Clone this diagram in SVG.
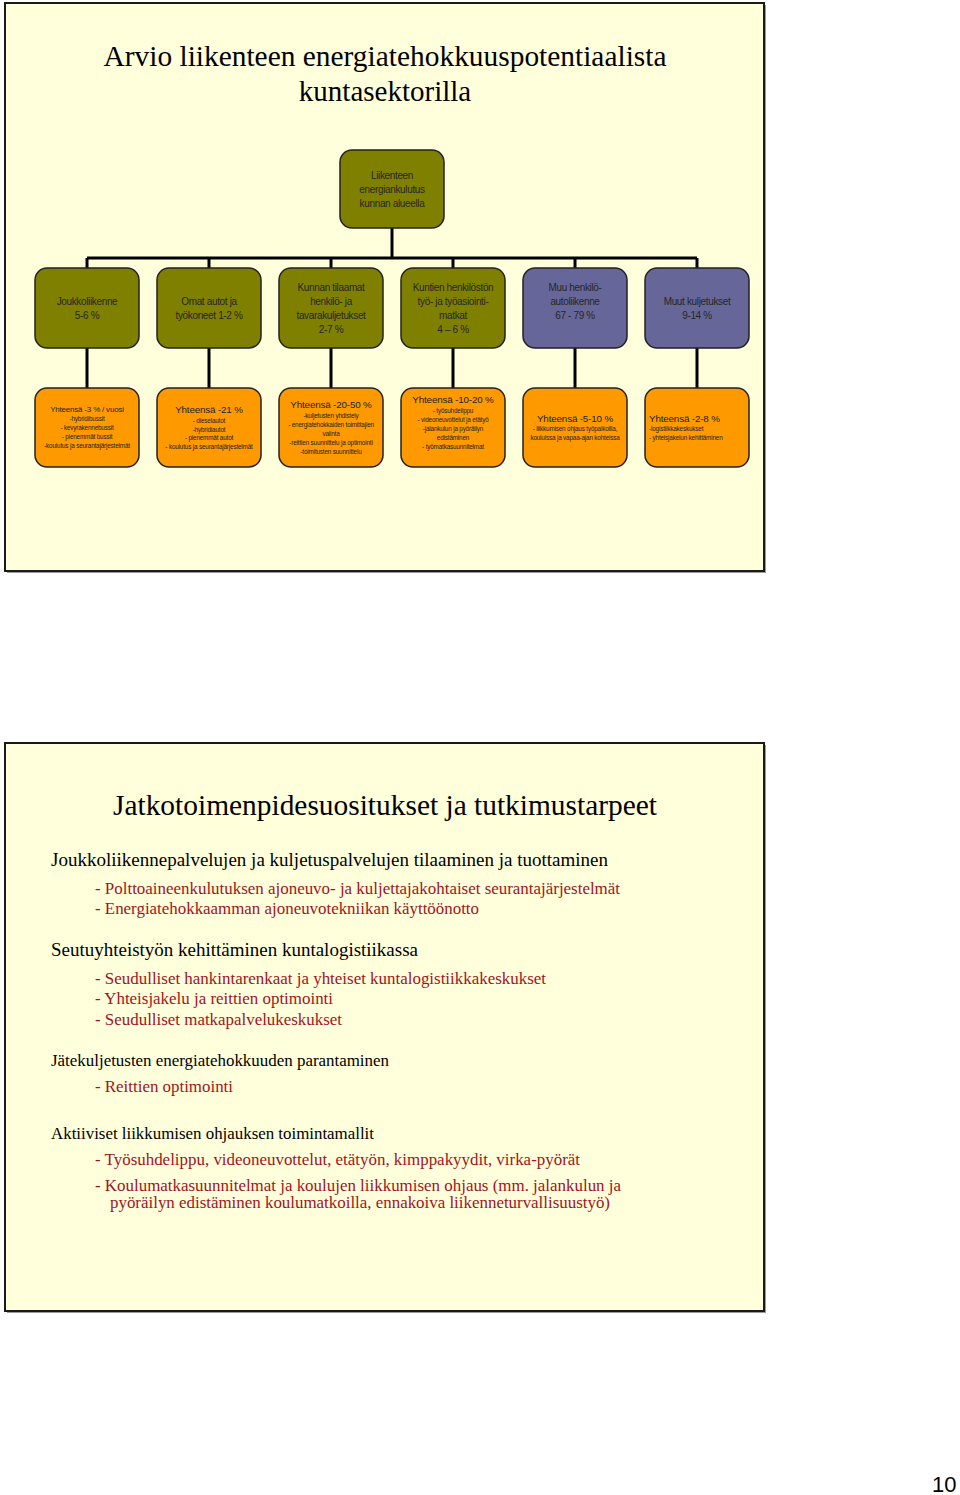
<svg xmlns="http://www.w3.org/2000/svg" width="960" height="1495" viewBox="0 0 960 1495">
<style>
.slide{fill:#FFFFDC;stroke:#1a1a1a;stroke-width:2}
.shadow{fill:#999}
.olive{fill:#808000;stroke:#222;stroke-width:1.5}
.purple{fill:#666699;stroke:#222;stroke-width:1.5}
.orange{fill:#FF9900;stroke:#222;stroke-width:1.5}
.conn{stroke:#000;stroke-width:3;fill:none}
.nt{font-family:"Liberation Sans",Arial,sans-serif;font-size:10px;fill:#262626;text-anchor:middle;letter-spacing:-0.35px}
.hd{font-family:"Liberation Sans",Arial,sans-serif;font-size:9.8px;fill:#222;text-anchor:middle;letter-spacing:-0.15px}
.sm{font-family:"Liberation Sans",Arial,sans-serif;font-size:6.3px;fill:#222;text-anchor:middle;letter-spacing:-0.15px}
.title{font-family:"Liberation Serif","Times New Roman",serif;font-size:29px;fill:#000;text-anchor:middle}
.h{font-family:"Liberation Serif","Times New Roman",serif;font-size:18px;fill:#000}
.h2{font-family:"Liberation Serif","Times New Roman",serif;font-size:16px;fill:#000}
.r{font-family:"Liberation Serif","Times New Roman",serif;font-size:16px;fill:#A0141E}
.pg{font-family:"Liberation Sans",Arial,sans-serif;font-size:22px;fill:#000}
</style>
<rect width="960" height="1495" fill="#fff"/>
<!-- Slide 1 -->
<g id="slide1">
<rect class="shadow" x="7" y="5" width="759" height="568"/>
<rect class="slide" x="5" y="3" width="759" height="568"/>
<text class="title" x="385" y="66" textLength="563" lengthAdjust="spacingAndGlyphs">Arvio liikenteen energiatehokkuuspotentiaalista</text>
<text class="title" x="385" y="101">kuntasektorilla</text>
</g>
<g id="connectors">
<path class="conn" d="M392 228V258M87 258H697M87 258V268M209 258V268M331 258V268M453 258V268M575 258V268M697 258V268"/>
<path class="conn" d="M87 348V388M209 348V388M331 348V388M453 348V388M575 348V388M697 348V388"/>
</g>
<g id="root">
<rect class="olive" x="340" y="150" width="104" height="78" rx="12"/>
<text class="nt" x="392" y="179">Liikenteen</text>
<text class="nt" x="392" y="193">energiankulutus</text>
<text class="nt" x="392" y="207">kunnan alueella</text>
</g>
<g id="n1">
<rect class="olive" x="35" y="268" width="104" height="80" rx="12"/>
<text class="nt" x="87" y="305">Joukkoliikenne</text>
<text class="nt" x="87" y="319">5-6 %</text>
</g>
<g id="n2">
<rect class="olive" x="157" y="268" width="104" height="80" rx="12"/>
<text class="nt" x="209" y="305">Omat autot ja</text>
<text class="nt" x="209" y="319">työkoneet 1-2 %</text>
</g>
<g id="n3">
<rect class="olive" x="279" y="268" width="104" height="80" rx="12"/>
<text class="nt" x="331" y="291">Kunnan tilaamat</text>
<text class="nt" x="331" y="305">henkilö- ja</text>
<text class="nt" x="331" y="319">tavarakuljetukset</text>
<text class="nt" x="331" y="333">2-7 %</text>
</g>
<g id="n4">
<rect class="olive" x="401" y="268" width="104" height="80" rx="12"/>
<text class="nt" x="453" y="291">Kuntien henkilöstön</text>
<text class="nt" x="453" y="305">työ- ja työasiointi-</text>
<text class="nt" x="453" y="319">matkat</text>
<text class="nt" x="453" y="333">4 – 6 %</text>
</g>
<g id="n5">
<rect class="purple" x="523" y="268" width="104" height="80" rx="12"/>
<text class="nt" x="575" y="291">Muu henkilö-</text>
<text class="nt" x="575" y="305">autoliikenne</text>
<text class="nt" x="575" y="319">67 - 79 %</text>
</g>
<g id="n6">
<rect class="purple" x="645" y="268" width="104" height="80" rx="12"/>
<text class="nt" x="697" y="305">Muut kuljetukset</text>
<text class="nt" x="697" y="319">9-14 %</text>
</g>
<g id="m1">
<rect class="orange" x="35" y="388" width="104" height="79" rx="12"/>
<text class="hd" x="87" y="412" style="font-size:7.9px">Yhteensä -3 % / vuosi</text>
<text class="sm" x="87" y="421">-hybridibussit</text>
<text class="sm" x="87" y="430">- kevyrakennebussit</text>
<text class="sm" x="87" y="439">- pienemmät bussit</text>
<text class="sm" x="87" y="448">-koulutus ja seurantajärjestelmät</text>
</g>
<g id="m2">
<rect class="orange" x="157" y="388" width="104" height="79" rx="12"/>
<text class="hd" x="209" y="413">Yhteensä -21 %</text>
<text class="sm" x="209" y="423">- dieselautot</text>
<text class="sm" x="209" y="432">-hybridiautot</text>
<text class="sm" x="209" y="440">- pienemmät autot</text>
<text class="sm" x="209" y="449">- koulutus ja seurantajärjestelmät</text>
</g>
<g id="m3">
<rect class="orange" x="279" y="388" width="104" height="79" rx="12"/>
<text class="hd" x="331" y="408">Yhteensä -20-50 %</text>
<text class="sm" x="331" y="418">-kuljetusten yhdistely</text>
<text class="sm" x="331" y="427">- energiatehokkaiden toimittajien</text>
<text class="sm" x="331" y="436">valinta</text>
<text class="sm" x="331" y="445">-reittien suunnittelu ja optimointi</text>
<text class="sm" x="331" y="454">-toimitusten suunnittelu</text>
</g>
<g id="m4">
<rect class="orange" x="401" y="388" width="104" height="79" rx="12"/>
<text class="hd" x="453" y="403">Yhteensä -10-20 %</text>
<text class="sm" x="453" y="413">- työsuhdelippu</text>
<text class="sm" x="453" y="422">- videoneuvottelut ja etätyö</text>
<text class="sm" x="453" y="431">-jalankulun ja pyöräilyn</text>
<text class="sm" x="453" y="440">edistäminen</text>
<text class="sm" x="453" y="449">- työmatkasuunnitelmat</text>
</g>
<g id="m5">
<rect class="orange" x="523" y="388" width="104" height="79" rx="12"/>
<text class="hd" x="575" y="422">Yhteensä -5-10 %</text>
<text class="sm" x="575" y="431">- liikkumisen ohjaus työpaikoilla,</text>
<text class="sm" x="575" y="440">kouluissa ja vapaa-ajan kohteissa</text>
</g>
<g id="m6">
<rect class="orange" x="645" y="388" width="104" height="79" rx="12"/>
<text class="hd" x="649" y="422" style="text-anchor:start">Yhteensä -2-8 %</text>
<text class="sm" x="649" y="431" style="text-anchor:start">-logistiikkakeskukset</text>
<text class="sm" x="649" y="440" style="text-anchor:start">- yhteisjakelun kehittäminen</text>
</g>
<!-- Slide 2 -->
<g id="slide2">
<rect class="shadow" x="7" y="745" width="759" height="568"/>
<rect class="slide" x="5" y="743" width="759" height="568"/>
<text class="title" x="385" y="815" textLength="544" lengthAdjust="spacingAndGlyphs">Jatkotoimenpidesuositukset ja tutkimustarpeet</text>
<text class="h" x="51" y="866" textLength="557" lengthAdjust="spacingAndGlyphs">Joukkoliikennepalvelujen ja kuljetuspalvelujen tilaaminen ja tuottaminen</text>
<text class="r" x="95" y="894" textLength="525" lengthAdjust="spacingAndGlyphs">- Polttoaineenkulutuksen ajoneuvo- ja kuljettajakohtaiset seurantajärjestelmät</text>
<text class="r" x="95" y="914" textLength="384" lengthAdjust="spacingAndGlyphs">- Energiatehokkaamman ajoneuvotekniikan käyttöönotto</text>
<text class="h" x="51" y="956" textLength="367" lengthAdjust="spacingAndGlyphs">Seutuyhteistyön kehittäminen kuntalogistiikassa</text>
<text class="r" x="95" y="984" textLength="451" lengthAdjust="spacingAndGlyphs">- Seudulliset hankintarenkaat ja yhteiset kuntalogistiikkakeskukset</text>
<text class="r" x="95" y="1004" textLength="238" lengthAdjust="spacingAndGlyphs">- Yhteisjakelu ja reittien optimointi</text>
<text class="r" x="95" y="1025" textLength="247" lengthAdjust="spacingAndGlyphs">- Seudulliset matkapalvelukeskukset</text>
<text class="h2" x="51" y="1066" textLength="338" lengthAdjust="spacingAndGlyphs">Jätekuljetusten energiatehokkuuden parantaminen</text>
<text class="r" x="95" y="1092" textLength="138" lengthAdjust="spacingAndGlyphs">- Reittien optimointi</text>
<text class="h2" x="51" y="1139" textLength="323" lengthAdjust="spacingAndGlyphs">Aktiiviset liikkumisen ohjauksen toimintamallit</text>
<text class="r" x="95" y="1165" textLength="485" lengthAdjust="spacingAndGlyphs">- Työsuhdelippu, videoneuvottelut, etätyön, kimppakyydit, virka-pyörät</text>
<text class="r" x="95" y="1191" textLength="526" lengthAdjust="spacingAndGlyphs">- Koulumatkasuunnitelmat ja koulujen liikkumisen ohjaus (mm. jalankulun ja</text>
<text class="r" x="110" y="1208" textLength="500" lengthAdjust="spacingAndGlyphs">pyöräilyn edistäminen koulumatkoilla, ennakoiva liikenneturvallisuustyö)</text>
</g>
<text class="pg" x="932" y="1492">10</text>
</svg>
